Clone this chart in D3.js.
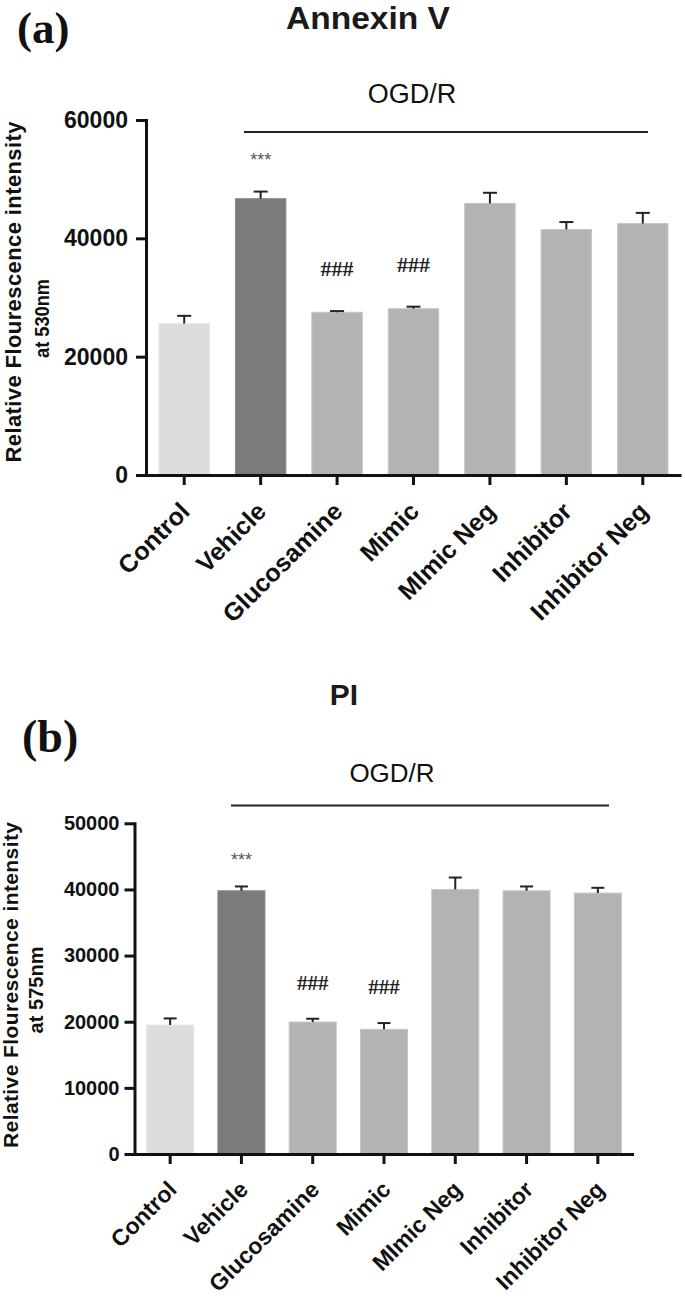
<!DOCTYPE html>
<html><head><meta charset="utf-8">
<script src="https://cdn.jsdelivr.net/npm/d3@7"></script>
<style>
body{margin:0;background:#fff}
svg{display:block}
</style>
</head><body>
<svg id="c" width="685" height="1300"></svg>
<script>
// ---------- DATA ----------
const categories = ["Control","Vehicle","Glucosamine","Mimic","MImic Neg","Inhibitor","Inhibitor Neg"];
const annexinMean = [25600, 46700, 27500, 28100, 45900, 41500, 42500];
const annexinSEM  = [1300, 1200, 200, 350, 1800, 1250, 1800];
const piMean      = [19500, 39800, 19950, 18850, 40000, 39800, 39450];
const piSEM       = [1000, 650, 500, 950, 1800, 650, 800];
const annexinTicks = [0, 20000, 40000, 60000];
const piTicks      = [0, 10000, 20000, 30000, 40000, 50000];
const annexinMarks = ["", "***", "###", "###", "", "", ""];
const piMarks      = ["", "***", "###", "###", "", "", ""];
const groupLabel = "OGD/R";

// ---------- STYLE ----------
const SANS = "'Liberation Sans', Arial, Helvetica, sans-serif";
const SERIF = "'Liberation Serif', 'Times New Roman', serif";
const barFill = ["#dcdcdc","#7b7b7b","#b3b3b3","#b3b3b3","#b3b3b3","#b3b3b3","#b3b3b3"];
const barEdge = ["#e8e8e8","#8a8a8a","#c6c6c6","#c6c6c6","#c6c6c6","#c6c6c6","#c6c6c6"];

const svg = d3.select("#c");
svg.append("rect").attr("width",685).attr("height",1300).attr("fill","#fff");

const panels = [
  {
    letter:"(a)", letterX:17, letterY:43, letterSize:45,
    title:"Annexin V", titleX:368, titleY:29, titleSize:31, titleLen:164,
    means:annexinMean, sem:annexinSEM, ticks:annexinTicks, marks:annexinMarks,
    yDomain:[0,60000], yRange:[475,120], xRange:[146,681],
    tickPad:8, tickFont:23, labelFont:25, labelDx:7, labelDy:38,
    capW:14,
    grpX:412, grpY:103, grpSize:27, lineX:[244,648], lineY:132,
    starGap:26, hashGap:35, starSize:18, hashSize:22,
    yl1:{x:21, y:292, len:341, size:22, adj:"spacing", text:"Relative Flourescence intensity"},
    yl2:{x:49, y:318.5, len:79, size:21, adj:"spacingAndGlyphs", text:"at 530nm"}
  },
  {
    letter:"(b)", letterX:22, letterY:752, letterSize:46,
    title:"PI", titleX:344, titleY:705, titleSize:30, titleLen:null,
    means:piMean, sem:piSEM, ticks:piTicks, marks:piMarks,
    yDomain:[0,50000], yRange:[1154,823.3], xRange:[134.5,633.5],
    tickPad:5, tickFont:20, labelFont:23, labelDx:8, labelDy:37,
    capW:13,
    grpX:392, grpY:782, grpSize:26, lineX:[231,609], lineY:805.5,
    starGap:20, hashGap:29, starSize:18, hashSize:21,
    yl1:{x:18, y:985, len:326, size:21, adj:"spacing", text:"Relative Flourescence intensity"},
    yl2:{x:43, y:990, len:87, size:20, adj:"spacing", text:"at 575nm"}
  }
];

function drawPanel(p){
  const x = d3.scaleBand().domain(categories).range(p.xRange).paddingInner(0.34).paddingOuter(0.17);
  const y = d3.scaleLinear().domain(p.yDomain).range(p.yRange);
  const g = svg.append("g");
  const cx = d => x(d) + x.bandwidth()/2;

  // bars
  g.selectAll("rect.bar").data(categories).join("rect").attr("class","bar")
    .attr("x", d => x(d)).attr("width", x.bandwidth())
    .attr("y", (d,i) => y(p.means[i]))
    .attr("height", (d,i) => y(0) - y(p.means[i]))
    .attr("fill", (d,i) => barFill[i])
    .attr("stroke", (d,i) => barEdge[i]).attr("stroke-width", 1);

  // error bars (upper only)
  const eb = g.selectAll("g.eb").data(categories).join("g").attr("class","eb");
  eb.append("line")
    .attr("x1", cx).attr("x2", cx)
    .attr("y1", (d,i) => y(p.means[i])).attr("y2", (d,i) => y(p.means[i] + p.sem[i]))
    .attr("stroke","#222").attr("stroke-width",2);
  eb.append("line")
    .attr("x1", d => cx(d) - p.capW/2).attr("x2", d => cx(d) + p.capW/2)
    .attr("y1", (d,i) => y(p.means[i] + p.sem[i])).attr("y2", (d,i) => y(p.means[i] + p.sem[i]))
    .attr("stroke","#222").attr("stroke-width",2);

  // significance marks
  g.selectAll("text.mark").data(categories).join("text").attr("class","mark")
    .attr("x", cx)
    .attr("y", (d,i) => y(p.means[i] + p.sem[i]) - (p.marks[i] === "***" ? p.starGap : p.hashGap))
    .attr("text-anchor","middle")
    .attr("font-family", (d,i) => p.marks[i] === "***" ? SANS : SERIF)
    .attr("font-weight", (d,i) => p.marks[i] === "***" ? "normal" : "bold")
    .attr("font-size", (d,i) => p.marks[i] === "***" ? p.starSize : p.hashSize)
    .attr("fill", (d,i) => p.marks[i] === "***" ? "#555" : "#222")
    .text((d,i) => p.marks[i]);

  // y axis
  const ya = g.append("g").attr("transform", `translate(${p.xRange[0]},0)`)
    .call(d3.axisLeft(y).tickValues(p.ticks).tickSize(10).tickSizeOuter(0).tickPadding(p.tickPad).tickFormat(d3.format("d")));
  ya.select(".domain").attr("stroke","#111").attr("stroke-width",3).attr("stroke-linecap","square");
  ya.selectAll(".tick line").attr("stroke","#111").attr("stroke-width",3);
  ya.selectAll(".tick text").attr("font-family",SANS).attr("font-weight","bold")
    .attr("font-size",p.tickFont).attr("fill","#111");

  // x axis
  const xa = g.append("g").attr("transform", `translate(0,${y(0)})`)
    .call(d3.axisBottom(x).tickSize(10).tickSizeOuter(0));
  xa.select(".domain").attr("stroke","#111").attr("stroke-width",3);
  xa.selectAll(".tick line").attr("stroke","#111").attr("stroke-width",3);
  xa.selectAll(".tick text")
    .attr("y",null).attr("dy",null).attr("x",null)
    .attr("transform", `translate(${p.labelDx},${p.labelDy}) rotate(-45)`)
    .attr("text-anchor","end")
    .attr("font-family",SANS).attr("font-weight","bold")
    .attr("font-size",p.labelFont).attr("fill","#111");

  // y label
  [p.yl1, p.yl2].forEach(l => {
    g.append("text")
      .attr("transform", `translate(${l.x},${l.y}) rotate(-90)`)
      .attr("text-anchor","middle")
      .attr("font-family",SANS).attr("font-weight","bold")
      .attr("font-size", l.size).attr("fill","#111")
      .attr("textLength", l.len).attr("lengthAdjust", l.adj)
      .text(l.text);
  });

  // group bracket
  g.append("line").attr("x1",p.lineX[0]).attr("x2",p.lineX[1])
    .attr("y1",p.lineY).attr("y2",p.lineY)
    .attr("stroke","#222").attr("stroke-width",2);
  g.append("text").attr("x",p.grpX).attr("y",p.grpY)
    .attr("text-anchor","middle").attr("font-family",SANS)
    .attr("font-size",p.grpSize).attr("fill","#111").text(groupLabel);

  // title + panel letter
  const t = g.append("text").attr("x",p.titleX).attr("y",p.titleY)
    .attr("text-anchor","middle").attr("font-family",SANS).attr("font-weight","bold")
    .attr("font-size",p.titleSize).attr("fill","#1a1a1a").text(p.title);
  if (p.titleLen) t.attr("textLength", p.titleLen).attr("lengthAdjust","spacingAndGlyphs");
  g.append("text").attr("x",p.letterX).attr("y",p.letterY)
    .attr("font-family",SERIF).attr("font-weight","bold")
    .attr("font-size",p.letterSize).attr("fill","#111").text(p.letter);
}

panels.forEach(drawPanel);
</script>
</body></html>
